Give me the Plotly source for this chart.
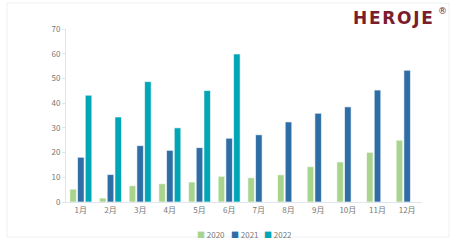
import plotly.graph_objects as go

months = ["1月", "2月", "3月", "4月", "5月", "6月", "7月", "8月", "9月", "10月", "11月", "12月"]
v2020 = [5.2, 1.6, 6.6, 7.4, 8.1, 10.4, 9.8, 11.0, 14.3, 16.2, 20.1, 25.0]
v2021 = [18.1, 11.1, 22.8, 20.9, 22.0, 25.8, 27.2, 32.4, 35.9, 38.5, 45.3, 53.3]
v2022 = [43.2, 34.4, 48.7, 30.0, 45.1, 59.9, None, None, None, None, None, None]
series_names = ["2020", "2021", "2022"]
colors = ["#a9d48e", "#2f6ea5", "#00a6b6"]
yticks = [0, 10, 20, 30, 40, 50, 60, 70]

W, H = 459, 246
L, R, T, B = 66, 37, 29, 44
pw, ph = W - L - R, H - T - B

def px_x(x):
    return (x - L) / pw

def px_y(y):
    return (H - B - y) / ph

fig = go.Figure()
for name, vals, col in zip(series_names, [v2020, v2021, v2022], colors):
    fig.add_trace(go.Bar(x=months, y=vals, name=name, marker=dict(color=col, line=dict(color="white", width=0.6))))

font_family = "Noto Sans CJK SC, Noto Sans, sans-serif"
fig.update_layout(
    width=W, height=H,
    margin=dict(l=L, r=R, t=T, b=B, pad=0),
    paper_bgcolor="white", plot_bgcolor="white",
    barmode="group", bargap=0.22, bargroupgap=0.15,
    showlegend=False,
    font=dict(family=font_family, size=8, color="#777"),
    xaxis=dict(showgrid=False, showline=True, linecolor="#dfe6f0", linewidth=1,
               ticks="", tickfont=dict(size=8, color="#777"), fixedrange=True),
    yaxis=dict(range=[0, 70], tickvals=yticks, showgrid=False, zeroline=False,
               showline=True, linecolor="#dfe6f0", linewidth=1,
               ticks="outside", ticklen=3, tickcolor="#dfe6f0",
               tickfont=dict(size=8, color="#777"), fixedrange=True),
)

# card border
fig.add_shape(type="rect", xref="paper", yref="paper",
              x0=px_x(7), x1=px_x(449), y0=px_y(237), y1=px_y(3),
              line=dict(color="#eef0f3", width=1), fillcolor="rgba(0,0,0,0)", layer="below")

# logo
fig.add_annotation(xref="paper", yref="paper", x=px_x(435), y=px_y(18), xanchor="right", yanchor="middle",
                   text="<b>H\u200aE\u200aR\u200aO\u200aJ\u200aE</b>", showarrow=False,
                   font=dict(family="DejaVu Sans, sans-serif", size=17, color="#7a1d2d"))
fig.add_annotation(xref="paper", yref="paper", x=px_x(436), y=px_y(11), xanchor="left", yanchor="middle",
                   text="®", showarrow=False,
                   font=dict(family="DejaVu Sans, sans-serif", size=9, color="#7a1d2d"))

# legend
leg_x = [196, 230, 263]
for name, col, lx in zip(series_names, colors, leg_x):
    fig.add_annotation(xref="paper", yref="paper", x=px_x(lx - 1), y=px_y(234.5), xanchor="left", yanchor="middle",
                       text=f"<span style='color:{col}'>■</span> {name}", showarrow=False,
                       font=dict(family=font_family, size=8, color="#777"))

fig.write_html("out.html")
